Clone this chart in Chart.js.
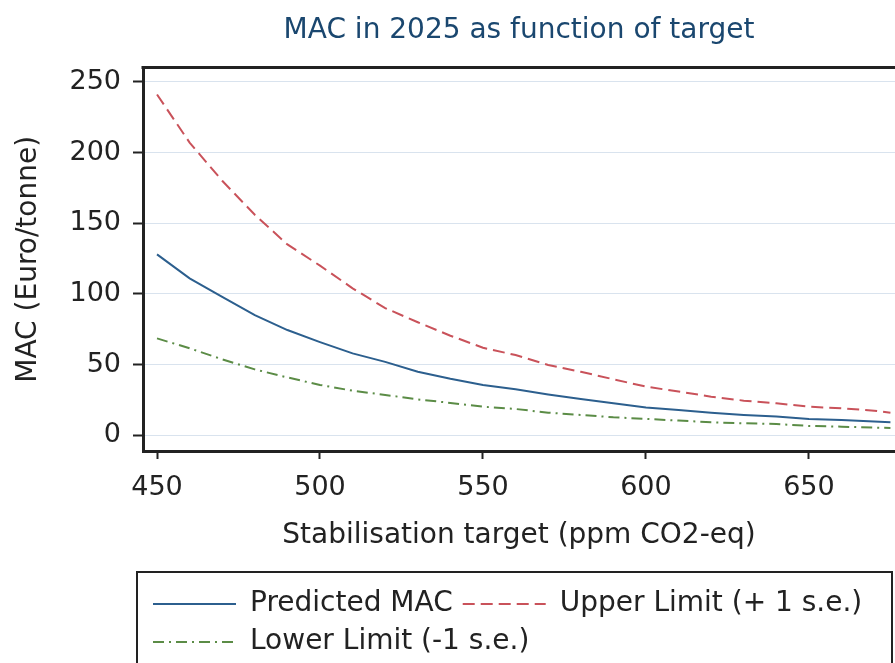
<!DOCTYPE html>
<html>
<head>
<meta charset="utf-8">
<title>MAC in 2025 as function of target</title>
<script src="https://cdn.jsdelivr.net/npm/chart.js@4.4.0/dist/chart.umd.min.js"></script>
<style>
  html, body { margin: 0; padding: 0; background: #fff; overflow: hidden; }
  canvas { display: block; }
</style>
</head>
<body>
<canvas id="macChart" width="895" height="663"></canvas>
<script>
// stabilisation targets, ppm CO2-eq
const targets = [450, 460, 470, 480, 490, 500, 510, 520, 530, 540, 550, 560,
                 570, 580, 590, 600, 610, 620, 630, 640, 650, 660, 670, 675];

// MAC in Euro/tonne
const predictedMac = [128, 111, 98, 85, 74.5, 66, 58, 52, 45, 40, 35.7, 32.6,
                      29, 25.8, 22.7, 19.8, 18, 16.1, 14.5, 13.3, 11.7, 10.9, 9.8, 9.4];
const upperLimit = [241, 207, 180, 156, 135, 120, 104, 90, 80, 70.5, 62, 56.8,
                    49.8, 45, 39.7, 34.5, 31, 27.4, 24.6, 22.7, 20.3, 19.2, 17.5, 16];
const lowerLimit = [68.6, 61.6, 53.8, 46.7, 41, 35.7, 31.6, 28.6, 25.5, 23, 20.3, 18.7,
                    16.1, 14.5, 12.8, 11.7, 10.5, 9.3, 8.6, 8.1, 6.7, 6.2, 5.5, 5.3];

const xTicks = [450, 500, 550, 600, 650];
const yTicks = [0, 50, 100, 150, 200, 250];

const FONT = 'DejaVu Sans';
const INK = '#222';

function toPoints(values) {
  return targets.map((t, i) => ({ x: t, y: values[i] }));
}

// top edge of the plot frame, and the box around the legend
const framePlugin = {
  id: 'frame',
  afterDraw(chart) {
    const { ctx, chartArea, legend } = chart;
    ctx.save();
    ctx.strokeStyle = INK;
    ctx.lineWidth = 3;
    ctx.beginPath();
    ctx.moveTo(chartArea.left - 1.5, chartArea.top);
    ctx.lineTo(chartArea.right, chartArea.top);
    ctx.stroke();
    ctx.lineWidth = 2;
    ctx.strokeRect(legend.left - 6, legend.top - 8, legend.width + 3, chart.height);
    ctx.restore();
  }
};

// legend samples take the dash and width of the dataset line, not of its points
function lineLabels(chart) {
  const items = Chart.defaults.plugins.legend.labels.generateLabels(chart);
  return items.map(item => {
    const ds = chart.data.datasets[item.datasetIndex];
    return { ...item, lineDash: ds.borderDash || [], lineWidth: ds.borderWidth, strokeStyle: ds.borderColor };
  });
}

new Chart(document.getElementById('macChart'), {
  type: 'line',
  data: {
    datasets: [
      {
        label: 'Predicted MAC',
        data: toPoints(predictedMac),
        borderColor: '#2c5f8e',
        borderWidth: 2
      },
      {
        label: 'Upper Limit (+ 1 s.e.)',
        data: toPoints(upperLimit),
        borderColor: '#c9525a',
        borderWidth: 2,
        borderDash: [12, 6]
      },
      {
        label: 'Lower Limit (-1 s.e.)',
        data: toPoints(lowerLimit),
        borderColor: '#5b8c46',
        borderWidth: 2,
        borderDash: [11, 5, 2, 5]
      }
    ]
  },
  options: {
    responsive: false,
    devicePixelRatio: 1,
    animation: false,
    elements: {
      point: { radius: 0 },
      line: { tension: 0, fill: false }
    },
    // the legend box runs on below the bottom edge
    layout: { padding: { top: 0, left: 0, right: 0, bottom: -3 } },
    plugins: {
      title: {
        display: true,
        text: 'MAC in 2025 as function of target',
        color: '#1a476f',
        font: { family: FONT, size: 28, weight: 'normal' },
        padding: { top: 14, bottom: 20 },
        fullSize: false
      },
      legend: {
        position: 'bottom',
        align: 'start',
        fullSize: false,
        labels: {
          usePointStyle: true,
          pointStyle: 'line',
          pointStyleWidth: 83,
          padding: 10,
          color: INK,
          font: { family: FONT, size: 28 },
          generateLabels: lineLabels
        }
      },
      tooltip: { enabled: false }
    },
    scales: {
      x: {
        type: 'linear',
        min: 445.7,
        max: 676.4,
        afterBuildTicks: s => { s.ticks = xTicks.map(v => ({ value: v })); },
        afterFit: s => { s.height = 129; },
        grid: { drawOnChartArea: false, tickLength: 8, tickWidth: 2, tickColor: INK },
        border: { color: INK, width: 3 },
        ticks: { color: INK, padding: 13, maxRotation: 0, font: { family: FONT, size: 27 } },
        title: {
          display: true,
          text: 'Stabilisation target (ppm CO2-eq)',
          color: INK,
          font: { family: FONT, size: 28 },
          padding: { top: 4, bottom: 27 }
        }
      },
      y: {
        min: -11,
        max: 260,
        afterBuildTicks: s => { s.ticks = yTicks.map(v => ({ value: v })); },
        afterFit: s => { s.width = 143; },
        grid: { color: '#d9e3ee', lineWidth: 1, tickLength: 10, tickWidth: 2, tickColor: INK },
        border: { color: INK, width: 3 },
        ticks: { color: INK, padding: 12, font: { family: FONT, size: 27 } },
        title: {
          display: true,
          text: 'MAC (Euro/tonne)',
          color: INK,
          font: { family: FONT, size: 28 },
          padding: { top: 12, bottom: 0 }
        }
      }
    }
  },
  plugins: [framePlugin]
});
</script>
</body>
</html>
